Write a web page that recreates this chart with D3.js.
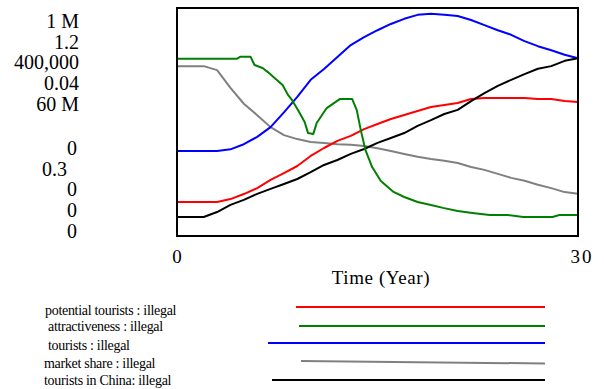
<!DOCTYPE html>
<html>
<head>
<meta charset="utf-8">
<script src="https://cdn.jsdelivr.net/npm/d3@7"></script>
<style>
  body { margin: 0; background: #fff; }
  text { font-family: "Liberation Serif", "Times New Roman", serif; fill: #000; }
</style>
</head>
<body>
<div id="chart"></div>
<script>
// time axis (years)
var years = [0,1,2,3,4,5,6,7,8,9,10,11,12,13,14,15,16,17,18,19,20,21,22,23,24,25,26,27,28,29,30];

// series
var potentialTourists = [149000,149000,149000,149000,162000,184000,210000,246000,276000,307000,351000,386000,417000,439000,469000,491000,513000,531000,548000,566000,575000,583000,601000,605000,605000,605000,605000,601000,601000,592000,588000];
var tourists = [149000,149000,149000,149000,152000,161000,174000,191000,217000,244000,274000,293000,314000,335000,349000,361000,372000,381000,388000,390000,388000,386000,379000,370000,361000,353000,342000,333000,326000,318000,312000];
var marketShare = [0.0298,0.0298,0.0298,0.0291,0.0260,0.0232,0.0212,0.0191,0.0177,0.0170,0.0165,0.0163,0.0161,0.0160,0.0158,0.0154,0.0149,0.0144,0.0139,0.0135,0.0132,0.0128,0.0121,0.0116,0.0109,0.0102,0.0097,0.0090,0.0084,0.0077,0.0074];
var touristsInChina = [5.0e6,5.0e6,5.0e6,6.3e6,8.2e6,9.5e6,11.1e6,12.4e6,13.7e6,15.0e6,16.8e6,18.7e6,20.0e6,21.6e6,22.9e6,24.5e6,25.8e6,27.1e6,29.0e6,30.5e6,32.1e6,33.2e6,35.5e6,37.6e6,39.5e6,41.1e6,42.6e6,44.0e6,44.7e6,46.1e6,46.8e6];

// attractiveness has a sharper shape, so it is sampled on its own times
var attractivenessYears = [0,4.5,4.75,5.5,5.8,6.4,6.8,7.3,7.9,8.3,8.6,9.05,9.55,9.8,10.2,10.45,11.2,12.2,13.1,13.45,13.75,14.1,14.6,15.25,16.2,17,18,19,19.9,21,22.1,23.4,24.7,25.9,28.1,28.6,30];
var attractiveness = [1.0,1.0,1.008,1.008,0.975,0.963,0.947,0.924,0.896,0.857,0.837,0.797,0.75,0.707,0.703,0.746,0.805,0.841,0.841,0.797,0.718,0.639,0.572,0.517,0.474,0.454,0.434,0.422,0.411,0.399,0.391,0.383,0.383,0.375,0.375,0.383,0.383];

var seriesNames = ["potential tourists : illegal", "attractiveness : illegal", "tourists : illegal", "market share : illegal", "tourists in China: illegal"];
var topLabels = ["1 M", "1.2", "400,000", "0.04", "60 M"];
var bottomLabels = ["0", "0.3", "0", "0", "0"];
var yMins = [0, 0.3, 0, 0, 0];
var yMaxs = [1e6, 1.2, 400000, 0.04, 60e6];
var xTickLabels = [0, 30];

var colors = ["#ff0000", "#008000", "#0000ff", "#808080", "#000000"];

var width = 604, height = 389;
var plot = {left: 177, right: 578, top: 8, bottom: 236};

var svg = d3.select("#chart").append("svg")
    .attr("width", width)
    .attr("height", height);

var x = d3.scaleLinear().domain([0, 30]).range([plot.left, plot.right]);

var seriesData = [
    {t: years, v: potentialTourists},
    {t: attractivenessYears, v: attractiveness},
    {t: years, v: tourists},
    {t: years, v: marketShare},
    {t: years, v: touristsInChina}
];

// one y scale per variable, vensim style
var yScales = seriesData.map(function(d, i) {
    return d3.scaleLinear().domain([yMins[i], yMaxs[i]]).range([plot.bottom, plot.top]);
});

// draw order: market share, tourists, potential, china, attractiveness last-ish
var drawOrder = [3, 2, 0, 4, 1];
drawOrder.forEach(function(i) {
    var pts = seriesData[i].t.map(function(t, j) { return [t, seriesData[i].v[j]]; });
    var line = d3.line()
        .x(function(p) { return x(p[0]); })
        .y(function(p) { return yScales[i](p[1]); });
    svg.append("path")
        .datum(pts)
        .attr("fill", "none")
        .attr("stroke", colors[i])
        .attr("stroke-width", 2)
        .attr("stroke-linejoin", "round")
        .attr("d", line);
});

// frame
svg.append("rect")
    .attr("x", plot.left)
    .attr("y", plot.top)
    .attr("width", plot.right - plot.left)
    .attr("height", plot.bottom - plot.top)
    .attr("fill", "none")
    .attr("stroke", "#000")
    .attr("stroke-width", 2);

// stacked y labels
var lineStep = 20.7;
svg.selectAll(".topLabel")
    .data(topLabels)
    .enter().append("text")
    .attr("class", "topLabel")
    .attr("x", 79)
    .attr("y", function(d, i) { return 21 + i * lineStep; })
    .attr("dy", "0.35em")
    .attr("text-anchor", "end")
    .style("font-size", "20px")
    .text(function(d) { return d; });

svg.selectAll(".bottomLabel")
    .data(bottomLabels)
    .enter().append("text")
    .attr("class", "bottomLabel")
    .attr("x", function(d) { return d == "0.3" ? 67 : 77; })
    .attr("y", function(d, i) { return 148 + i * lineStep; })
    .attr("dy", "0.35em")
    .attr("text-anchor", "end")
    .style("font-size", "20px")
    .text(function(d) { return d; });

// x ticks
svg.selectAll(".xTick")
    .data(xTickLabels)
    .enter().append("text")
    .attr("class", "xTick")
    .attr("x", function(d) { return x(d) + (d == 30 ? 4 : 0); })
    .attr("y", 256)
    .attr("dy", "0.35em")
    .attr("text-anchor", "middle")
    .style("font-size", "19px")
    .style("letter-spacing", function(d) { return d == 30 ? "2px" : "0px"; })
    .text(function(d) { return d; });

svg.append("text")
    .attr("x", 381)
    .attr("y", 277)
    .attr("dy", "0.35em")
    .attr("text-anchor", "middle")
    .style("font-size", "19px")
    .style("letter-spacing", "0.6px")
    .text("Time (Year)");

// legend
var legendTextX = [45, 48, 48, 44, 44];
var legendTextY = [310, 326, 345, 363, 380];
var legendLineX = [296, 299, 268, 301, 272];
var legendLineY = [307, 326, 343, 361, 380];
var legendLineEnd = 545;

var legend = svg.selectAll(".legend")
    .data(seriesNames)
    .enter().append("g")
    .attr("class", "legend");

legend.append("text")
    .attr("x", function(d, i) { return legendTextX[i]; })
    .attr("y", function(d, i) { return legendTextY[i]; })
    .attr("dy", "0.35em")
    .style("font-size", "14px")
    .style("letter-spacing", "-0.3px")
    .text(function(d) { return d; });

legend.append("line")
    .attr("x1", function(d, i) { return legendLineX[i]; })
    .attr("x2", legendLineEnd)
    .attr("y1", function(d, i) { return legendLineY[i]; })
    .attr("y2", function(d, i) { return legendLineY[i] + (i == 3 ? 2.5 : 0); })
    .attr("stroke", function(d, i) { return colors[i]; })
    .attr("stroke-width", 2);
</script>
</body>
</html>
